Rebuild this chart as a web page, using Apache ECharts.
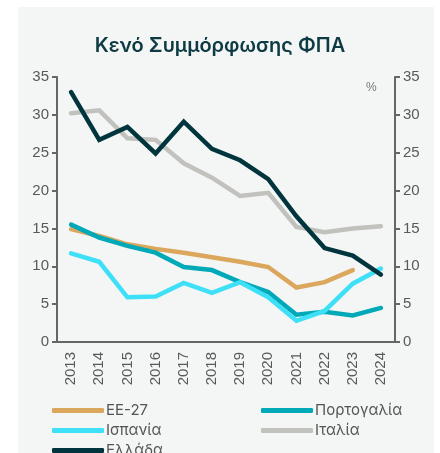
<!DOCTYPE html>
<html>
<head>
<meta charset="utf-8">
<script src="https://cdn.jsdelivr.net/npm/echarts@6/dist/echarts.min.js"></script>
<style>
  html, body { margin: 0; padding: 0; background: #fff; }
  #chart { width: 440px; height: 453px; }
</style>
</head>
<body>
<div id="chart"></div>
<script>
const years = ['2013', '2014', '2015', '2016', '2017', '2018', '2019', '2020', '2021', '2022', '2023', '2024'];
const eu27 = [14.9, 14.0, 12.9, 12.3, 11.8, 11.2, 10.6, 9.9, 7.2, 7.9, 9.5, null];
const portugal = [15.5, 13.8, 12.7, 11.8, 9.9, 9.5, 7.9, 6.6, 3.6, 4.0, 3.5, 4.5];
const spain = [11.7, 10.6, 5.9, 6.0, 7.8, 6.5, 7.9, 5.9, 2.8, 4.1, 7.7, 9.7];
const italy = [30.2, 30.6, 26.9, 26.7, 23.6, 21.7, 19.3, 19.7, 15.2, 14.5, 15.0, 15.3];
const greece = [33.0, 26.7, 28.4, 24.9, 29.1, 25.5, 24.0, 21.5, 16.6, 12.4, 11.4, 8.9];

const chart = echarts.init(document.getElementById('chart'));

const axisGray = '#666666';
const labelGray = '#595959';

const mkSeries = (name, data, color) => ({
  name: name,
  type: 'line',
  data: data,
  symbol: 'none',
  lineStyle: { width: 4.5, color: color, cap: 'round', join: 'miter' },
  itemStyle: { color: color },
});

const yAxisBase = {
  type: 'value',
  min: 0,
  max: 35,
  interval: 5,
  splitLine: { show: false },
  axisLine: { show: true, lineStyle: { color: axisGray, width: 2 } },
  axisTick: { show: true, length: 5, lineStyle: { color: axisGray, width: 2 } },
  axisLabel: { color: labelGray, fontSize: 15, fontFamily: 'Liberation Sans' },
};

// one legend per entry so they sit on a fixed 2-column grid
const mkLegend = (name, left, top) => ({
  data: [name],
  left: left,
  top: top,
  padding: 0,
  itemWidth: 52,
  itemHeight: 5,
  icon: 'roundRect',
  textStyle: { color: '#555', fontSize: 15, fontFamily: 'Inter', padding: [0, 0, 0, -3] },
});

chart.setOption({
  backgroundColor: '#ffffff',
  animation: false,
  graphic: [
    {
      type: 'rect',
      shape: { x: 18, y: 7, width: 416, height: 446 },
      style: { fill: '#f4f6f6' },
      z: -10,
      silent: true,
    },
    {
      type: 'text',
      left: 366,
      top: 82,
      style: { text: '%', fill: '#777', fontSize: 12, fontFamily: 'Liberation Sans' },
    },
  ],
  title: {
    text: 'Κενό Συμμόρφωσης ΦΠΑ',
    left: 'center',
    top: 31,
    textStyle: { color: '#0e3b43', fontSize: 20, fontWeight: 600, fontFamily: 'Inter' },
  },
  grid: { left: 57, right: 45, top: 77, bottom: 111 },
  xAxis: {
    type: 'category',
    data: years,
    boundaryGap: true,
    axisLine: { show: true, lineStyle: { color: axisGray, width: 2 } },
    axisTick: { show: false },
    axisLabel: { rotate: 90, color: labelGray, fontSize: 15, fontFamily: 'Liberation Sans', margin: 10 },
  },
  yAxis: [
    Object.assign({}, yAxisBase, { position: 'left' }),
    Object.assign({}, yAxisBase, { position: 'right' }),
  ],
  legend: [
    mkLegend('ΕΕ-27', 52, 403),
    mkLegend('Πορτογαλία', 261, 403),
    mkLegend('Ισπανία', 52, 423),
    mkLegend('Ιταλία', 261, 423),
    mkLegend('Ελλάδα', 52, 443),
  ],
  series: [
    mkSeries('ΕΕ-27', eu27, '#dba75c'),
    mkSeries('Πορτογαλία', portugal, '#00a9b7'),
    mkSeries('Ισπανία', spain, '#3ee0f7'),
    mkSeries('Ιταλία', italy, '#c1c1be'),
    mkSeries('Ελλάδα', greece, '#00353d'),
  ],
});
</script>
</body>
</html>
